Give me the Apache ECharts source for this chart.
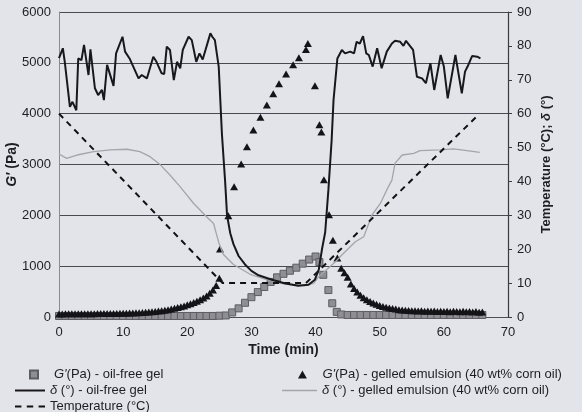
<!DOCTYPE html>
<html>
<head>
<meta charset="utf-8">
<script src="https://cdn.jsdelivr.net/npm/echarts@6/dist/echarts.min.js"></script>
<style>
html,body{margin:0;padding:0;background:#e3e4e9;}
#chart{width:582px;height:412px;}
</style>
</head>
<body>
<div id="chart"></div>
<script>
// ---- Data (time in min) ----
const xTicks = [0, 10, 20, 30, 40, 50, 60, 70];
const leftTicks = [0, 1000, 2000, 3000, 4000, 5000, 6000];
const rightTicks = [0, 10, 20, 30, 40, 50, 60, 70, 80, 90];

// G'(Pa) - oil-free gel (squares)
const gOilFree = [
  [0,20],[1,20],[2,20],[3,20],[4,20],[5,20],[6,20],[7,20],[8,20],[9,20],[10,20],
  [11,20],[12,20],[13,20],[14,20],[15,20],[16,20],[17,20],[18,20],[19,20],[20,20],
  [21,20],[22,20],[23,20],[24,20],[25,25],[26,30],[27,90],[28,170],[29,280],[30,390],
  [31,490],[32,590],[33,690],[34,780],[35,850],[36,910],[37,970],[38,1050],[39,1130],
  [40,1190],[40.6,1080],[41.2,830],[42,530],[42.6,270],[43.3,100],[44,50],[45,40],
  [46,40],[47,40],[48,40],[49,40],[50,40],[51,40],[52,40],[53,40],[54,40],[55,40],
  [56,40],[57,40],[58,40],[59,40],[60,40],[61,40],[62,40],[63,40],[64,40],[65,40],[66,40]
];

// G'(Pa) - gelled emulsion (triangles)
const gEmulsionEarlyTime = [0,0.5,1,1.5,2,2.5,3,3.5,4,4.5,5,5.5,6,6.5,7,7.5,8,8.5,9,9.5,
  10,10.5,11,11.5,12,12.5,13,13.5,14,14.5,15,15.5,16,16.5,17,17.5,18,18.5,19,19.5,
  20,20.5,21,21.5,22,22.5,23,23.5,24,24.5,25];
const gEmulsionEarly = [60,60,62,62,63,63,64,64,65,65,66,66,67,67,68,68,69,70,71,72,
  74,76,78,80,83,86,89,93,98,104,110,117,125,134,145,158,172,186,200,218,
  240,262,285,310,340,375,415,465,530,620,760];
const gEmulsionMid = [
  [25.1,1340],[26.4,1990],[27.3,2560],[28.4,3010],[29.3,3350],[30.3,3680],[31.4,3930],
  [32.4,4170],[33.4,4390],[34.3,4590],[35.4,4780],[36.5,4960],[37.4,5100],[38.5,5260],
  [38.8,5380],[39.9,4550],[40.6,3780],[40.9,3640],[41.3,2700],[42.1,2010],[42.7,1510],[43.4,1160]
];
const gEmulsionLateTime = [44,44.5,45,45.5,46,46.5,47,47.5,48,48.5,49,49.5,50,50.5,51,51.5,
  52,52.5,53,53.5,54,54.5,55,55.5,56,56.5,57,57.5,58,58.5,59,59.5,60,60.5,61,61.5,
  62,62.5,63,63.5,64,64.5,65,65.5,66];
const gEmulsionLate = [960,870,780,650,560,490,430,380,340,305,275,250,225,205,190,175,
  165,155,145,140,135,130,125,125,120,125,115,120,115,120,110,115,110,115,105,115,
  110,105,115,105,110,100,110,95,100];

// delta (deg) - oil-free gel (black line)
const deltaOilFree = [
  [0,76.4],[0.6,79.3],[0.9,75.3],[1.7,62],[2.1,63.5],[2.7,61],[3.0,76.3],[3.5,75.8],[3.9,80.3],
  [4.6,71.4],[4.9,79],[5.6,67.5],[6.1,65.5],[6.7,67],[7.0,64],[7.5,74.4],[8.5,68.2],[8.9,77.8],
  [9.9,82.7],[10.3,78.3],[11.0,76.3],[12.4,70.4],[12.9,71.4],[13.7,70.4],[14.7,76.8],[15.2,75.3],
  [16.0,71.9],[16.4,71.7],[16.8,79.8],[17.3,78.8],[17.9,69.9],[18.4,75.3],[18.9,73.4],[19.3,78.8],
  [20.2,82.7],[20.7,81.7],[21.4,75.3],[21.9,77.8],[22.4,76],[23.6,83.7],[23.9,82.7],[24.3,81.7],
  [24.9,73.9],[25.4,54],[25.9,40],[26.2,30],[26.7,24.7],[27.2,21.5],[28,18],[29,15.5],[30,13.6],
  [31.1,12.3],[33.2,11],[35.3,9.9],[37.3,9.2],[38.9,9.5],[39.9,11],[40.5,14],[41,20],[41.5,25],
  [42,37.5],[42.5,52],[42.8,64],[43.4,76.3],[44.1,78.8],[44.6,77.8],[45.4,78.3],[46.0,77.8],
  [46.4,81.2],[46.9,80.7],[47.4,82.9],[47.9,77.8],[48.3,77.3],[48.9,73.9],[49.6,79.3],[49.8,78.8],
  [50.3,73.4],[51.1,78.3],[51.9,80.7],[52.4,81.5],[53.2,81.2],[53.7,80],[54.1,81.5],[54.8,79.8],
  [55.2,78.8],[55.8,70.9],[56.6,70.4],[57.2,69],[57.9,74.9],[58.5,67],[59.5,77.3],[60.0,73.9],
  [60.6,64.5],[61.8,77.3],[62.8,66],[63.3,72.4],[63.7,73.9],[64.4,77],[65.2,76.8],[65.7,76.3]
];

// delta (deg) - gelled emulsion (grey line)
const deltaEmulsion = [
  [0,48.1],[1.2,46.8],[2.8,47.8],[5.4,48.8],[8,49.3],[10.6,49.5],[12.6,48.8],[14.2,47.3],
  [15.8,44.9],[17.3,41.9],[18.9,38.4],[21,33.5],[23,29.6],[24.1,27.6],[24.9,22],[25.6,18.5],
  [27.2,15.5],[29.8,12.6],[32.4,11],[35,9.8],[38.4,9.3],[39.7,9.9],[40.5,11.9],[43.1,16.3],
  [44.1,18.3],[46.2,22.2],[47.5,23.7],[48.8,30.1],[50.1,33.5],[51.1,37.5],[51.9,40.4],
  [52.4,45.4],[53.5,47.8],[55.3,48.3],[56.3,49.1],[59.4,49.3],[61.5,49.6],[63.6,49.1],[65.6,48.6]
];

// Temperature (deg C) (dashed)
const temperature = [[0,60],[25.5,10],[38.5,10],[65.3,59.5]];

// ---- Build ----
const N_SQ = "G'(Pa) - oil-free gel";
const N_DOIL = "δ (°) - oil-free gel";
const N_TEMP = "Temperature (°C)";
const N_TRI = "G'(Pa) - gelled emulsion (40 wt% corn oil)";
const N_DEMU = "δ (°) - gelled emulsion (40 wt% corn oil)";

const zipT = (ts, vs) => ts.map((t, i) => [t, vs[i]]);
const gEmulsion = zipT(gEmulsionEarlyTime, gEmulsionEarly)
  .concat(gEmulsionMid)
  .concat(zipT(gEmulsionLateTime, gEmulsionLate));

const FONT = 'Liberation Sans';
const TXT = '#1d1d22';
const richIt = { i: { fontStyle: 'italic', fontSize: 13, fontFamily: FONT, color: TXT } };
const legendBase = {
  padding: 0, selectedMode: false,
  textStyle: { fontSize: 13, fontFamily: FONT, color: TXT, rich: richIt }
};
const sqPath = 'path://M0,0H10V10H0Z';
const triPath = 'path://M5,0L10,9H0Z';
const solidPath = 'path://M0,0H30V2H0Z';
const dashPath = 'path://M0,0H6V2H0Z M11,0H17V2H11Z M22,0H28V2H22Z';
const thinPath = 'path://M0,0H35V1.3H0Z';

const mkLegend = (name, icon, left, top, w, h, text) => Object.assign({}, legendBase, {
  data: [{ name: name, icon: icon }], left: left, top: top, itemWidth: w, itemHeight: h,
  formatter: () => text
});

const chart = echarts.init(document.getElementById('chart'), null, { renderer: 'canvas' });
chart.setOption({
  animation: false,
  backgroundColor: '#e3e4e9',
  grid: { left: 59, right: 74, top: 12, bottom: 95, containLabel: false, outerBoundsMode: 'none' },
  xAxis: {
    type: 'value', min: xTicks[0], max: xTicks[xTicks.length - 1], interval: 10,
    name: 'Time (min)', nameLocation: 'middle', nameGap: 26, nameMoveOverlap: false,
    nameTextStyle: { fontSize: 14, fontWeight: 'bold', fontFamily: FONT, color: TXT },
    axisLine: { show: true, lineStyle: { color: '#4d4d57', width: 1.2 } },
    axisTick: { show: false },
    splitLine: { show: false },
    axisLabel: { fontSize: 13, fontFamily: FONT, color: TXT, margin: 9 }
  },
  yAxis: [
    {
      type: 'value', min: leftTicks[0], max: leftTicks[leftTicks.length - 1], interval: 1000,
      name: "{bi|G'} {b|(Pa)}", nameLocation: 'middle', nameGap: 40, nameRotate: 90, nameMoveOverlap: false,
      nameTextStyle: {
        fontSize: 14, fontWeight: 'bold', fontFamily: FONT, color: TXT,
        rich: {
          bi: { fontSize: 14, fontWeight: 'bold', fontStyle: 'italic', fontFamily: FONT, color: TXT },
          b: { fontSize: 14, fontWeight: 'bold', fontFamily: FONT, color: TXT }
        }
      },
      axisLine: { show: true, lineStyle: { color: '#8a8a92', width: 1 } },
      axisTick: { show: false },
      splitLine: { show: true, lineStyle: { color: '#4a4a54', width: 1.2 } },
      axisLabel: { fontSize: 13, fontFamily: FONT, color: TXT, margin: 8, formatter: (v) => String(v) }
    },
    {
      type: 'value', min: rightTicks[0], max: rightTicks[rightTicks.length - 1], interval: 10,
      position: 'right',
      name: '{b|Temperature (°C); }{bi|δ}{b| (°)}', nameLocation: 'middle', nameGap: 32, nameRotate: 90,
      nameMoveOverlap: false,
      nameTextStyle: {
        fontSize: 13, fontWeight: 'bold', fontFamily: FONT, color: TXT,
        rich: {
          bi: { fontSize: 13, fontWeight: 'bold', fontStyle: 'italic', fontFamily: FONT, color: TXT },
          b: { fontSize: 13, fontWeight: 'bold', fontFamily: FONT, color: TXT }
        }
      },
      axisLine: { show: true, lineStyle: { color: '#3a3a40', width: 1.2 } },
      axisTick: { show: true, inside: false, length: 4, lineStyle: { color: '#3a3a40' } },
      splitLine: { show: false },
      axisLabel: { fontSize: 13, fontFamily: FONT, color: TXT, margin: 9, formatter: (v) => String(v) }
    }
  ],
  legend: [
    mkLegend(N_SQ, sqPath, 29, 368, 30, 8, "{i|G'}(Pa) - oil-free gel"),
    mkLegend(N_DOIL, solidPath, 15, 384, 30, 10, '{i|δ} (°) - oil-free gel'),
    mkLegend(N_TEMP, dashPath, 15, 400, 30, 10, 'Temperature (°C)'),
    mkLegend(N_TRI, triPath, 298, 368, 30, 8, "{i|G'}(Pa) - gelled emulsion (40 wt% corn oil)"),
    mkLegend(N_DEMU, thinPath, 282, 384, 35, 10, '{i|δ} (°) - gelled emulsion (40 wt% corn oil)')
  ],
  series: [
    {
      name: N_SQ, type: 'scatter', yAxisIndex: 0, data: gOilFree,
      symbol: 'rect', symbolSize: 7,
      itemStyle: { color: '#8e8e94', borderColor: '#5c5c62', borderWidth: 1, opacity: 1 }
    },
    {
      name: N_DEMU, type: 'line', yAxisIndex: 1, data: deltaEmulsion,
      symbol: 'none', lineStyle: { color: '#a4a4aa', width: 1.3 }, itemStyle: { color: '#a4a4aa' }
    },
    {
      name: N_TEMP, type: 'line', yAxisIndex: 1, data: temperature,
      symbol: 'none', lineStyle: { color: '#111', width: 2, type: [6, 5] }, itemStyle: { color: '#111' }
    },
    {
      name: N_DOIL, type: 'line', yAxisIndex: 1, data: deltaOilFree,
      symbol: 'none', lineStyle: { color: '#18181c', width: 2 }, itemStyle: { color: '#18181c' }
    },
    {
      name: N_TRI, type: 'scatter', yAxisIndex: 0, data: gEmulsion,
      symbol: 'triangle', symbolSize: [8, 7],
      itemStyle: { color: '#141418', opacity: 1 }
    }
  ]
});
</script>
</body>
</html>
